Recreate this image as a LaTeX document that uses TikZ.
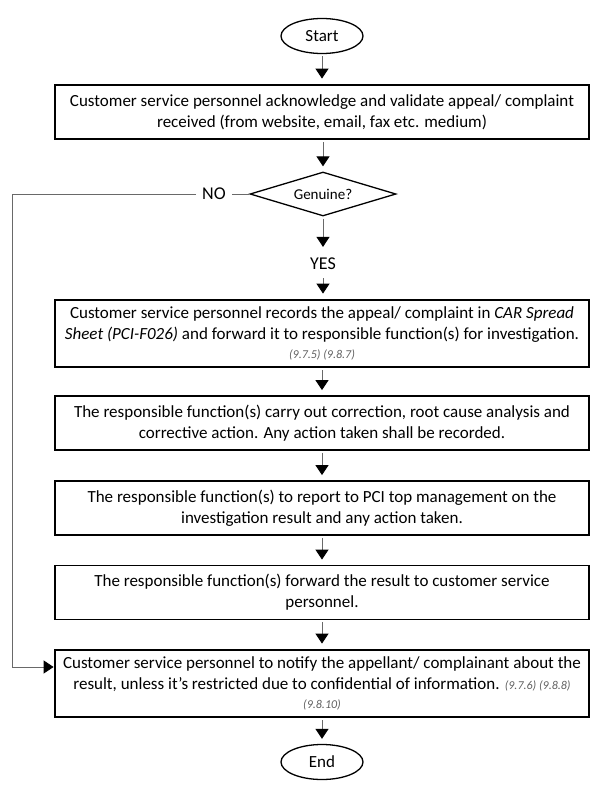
\documentclass[tikz,border=0pt]{standalone}
\usepackage{fontspec}
\setmainfont{Carlito}
\usepackage{xcolor}
\definecolor{linegray}{RGB}{105,105,105}
\definecolor{refgray}{RGB}{95,95,95}
\usetikzlibrary{shapes.geometric,arrows.meta}
\newcommand{\clause}[1]{{\fontsize{12}{14}\selectfont\itshape\color{refgray}#1}}

\begin{document}
\begin{tikzpicture}[x=1pt, y=-1pt,
    procbox/.style={draw, line width=1.8pt, minimum width=534pt, minimum height=54pt,
        align=center, inner sep=0pt, font=\fontsize{17}{21}\selectfont},
    heavy/.style={line width=2.8pt},
    terminal/.style={ellipse, draw, line width=1.3pt, minimum width=82pt,
        minimum height=35pt, inner sep=0pt, font=\fontsize{17}{19}\selectfont},
    decision/.style={diamond, draw, line width=1.3pt, minimum width=146pt,
        minimum height=44pt, inner sep=0pt, aspect=3.3, font=\fontsize{15}{17}\selectfont},
    branch/.style={inner sep=6pt, font=\fontsize{18}{20}\selectfont},
    flow/.style={-{Triangle[length=10pt, width=13pt, color=black]}, linegray,
        line width=0.9pt, shorten >=5pt, shorten <=2pt},
    link/.style={linegray, line width=0.9pt},
]
\useasboundingbox (0,0) rectangle (600,788);

%% --- start / end ---
\node[terminal] (start) at (322,36) {Start};
\node[terminal] (finish) at (322,762) {End};

%% --- first check ---
\node[procbox, heavy] (receive) at (322,112)
    {Customer service personnel acknowledge and validate appeal/ complaint\\
     received (from website, email, fax etc. medium)};
\node[decision] (genuine) at (323,194) {Genuine?};
\node[branch] (yes) at (323,264) {YES};
\node[branch] (no) at (214,194) {NO};

%% --- investigation steps ---
\node[procbox, heavy, minimum height=67pt] (record) at (322,333.5)
    {Customer service personnel records the appeal/ complaint in \textit{CAR Spread}\\
     \textit{Sheet (PCI-F026)} and forward it to responsible function(s) for investigation.\\[-2pt]
     \clause{(9.7.5) (9.8.7)}};
\node[procbox] (analyse) at (322,423)
    {The responsible function(s) carry out correction, root cause analysis and\\
     corrective action. Any action taken shall be recorded.};
\node[procbox] (report) at (322,508)
    {The responsible function(s) to report to PCI top management on the\\
     investigation result and any action taken.};
\node[procbox] (forward) at (322,592.5)
    {The responsible function(s) forward the result to customer service\\
     personnel.};
\node[procbox, heavy, minimum height=67pt] (notify) at (322,683.5)
    {Customer service personnel to notify the appellant/ complainant about the\\
     result, unless it’s restricted due to confidential of information. \clause{(9.7.6) (9.8.8)}\\[-2pt]
     \clause{(9.8.10)}};

%% --- main flow ---
\draw[flow] (start) -- (receive);
\draw[flow] (receive.south -| genuine) -- (genuine);
\draw[flow] (genuine) -- (yes);
\draw[flow] (yes) -- (record.north -| yes);
\draw[flow] (record) -- (analyse);
\draw[flow] (analyse) -- (report);
\draw[flow] (report) -- (forward);
\draw[flow] (forward) -- (notify);
\draw[flow] (notify) -- (finish);

%% --- "NO" branch back to notification ---
\coordinate (loopcorner) at (12,194);
\draw[link] (genuine) -- (no);
\draw[flow, shorten >=0pt, shorten <=0pt] (no) -- (loopcorner)
    |- ([yshift=16.5pt]notify.west);

\end{tikzpicture}
\end{document}
